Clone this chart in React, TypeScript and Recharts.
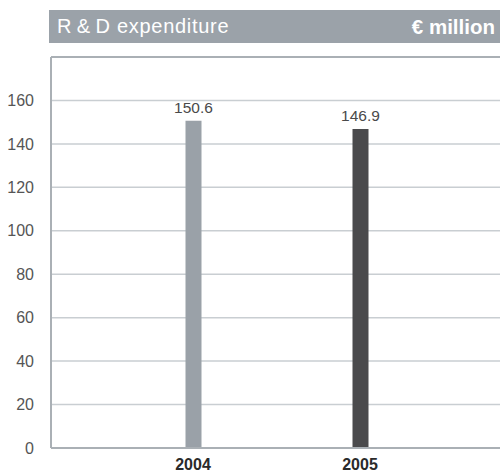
import React from 'react';
import { BarChart, Bar, XAxis, YAxis, CartesianGrid, Cell, LabelList, ReferenceLine } from 'recharts';

const years = ['2004', '2005'];
const expenditure = [150.6, 146.9];
const barColors = ['#9aa1a8', '#4a4a4c'];
const yTicks = [0, 20, 40, 60, 80, 100, 120, 140, 160];

const data = years.map((y, i) => ({ year: y, value: expenditure[i], color: barColors[i] }));

const FONT = '"Liberation Sans", Arial, Helvetica, sans-serif';

export default function App() {
  return (
    <div style={{ position: 'absolute', left: 0, top: 0, width: 500, height: 475, background: '#fff', fontFamily: FONT }}>
      <div
        style={{
          position: 'absolute', left: 49, top: 10, width: 451, height: 33, background: '#9ba2a9',
          color: '#fff', fontSize: 20, lineHeight: '33px', boxSizing: 'border-box', paddingLeft: 8, paddingRight: 5,
          display: 'flex', justifyContent: 'space-between',
        }}
      >
        <span style={{ letterSpacing: 0.7 }}>R&#8201;&amp;&#8201;D expenditure</span>
        <span style={{ fontWeight: 'bold', fontSize: 20.5 }}>€ million</span>
      </div>
      <div style={{ position: 'absolute', left: 0, top: 0 }}>
        <BarChart width={500} height={475} data={data} margin={{ top: 57, right: 0, bottom: 0, left: 0 }}>
          <CartesianGrid vertical={false} stroke="#c9ced2" strokeWidth={1.5} />
          <XAxis
            dataKey="year"
            padding={{ left: 58.5, right: 56.5 }}
            height={27}
            tickLine={false}
            tickSize={0}
            tickMargin={11}
            axisLine={{ stroke: '#aab0b5', strokeWidth: 2 }}
            tick={{ fill: '#2a2a2a', fontSize: 16, fontWeight: 'bold', fontFamily: FONT }}
          />
          <YAxis
            domain={[0, 180]}
            ticks={yTicks}
            width={51}
            tickLine={false}
            tickSize={0}
            tickMargin={17}
            axisLine={{ stroke: '#aab0b5', strokeWidth: 2 }}
            tick={{ fill: '#555', fontSize: 16, fontFamily: FONT }}
          />
          <ReferenceLine y={180} stroke="#aab0b5" strokeWidth={2} />
          <Bar dataKey="value" barSize={16} isAnimationActive={false}>
            {data.map((d) => (
              <Cell key={d.year} fill={d.color} />
            ))}
            <LabelList dataKey="value" position="top" offset={8} fill="#4a4a4a" fontSize={15.5} fontFamily={FONT} />
          </Bar>
        </BarChart>
      </div>
    </div>
  );
}
